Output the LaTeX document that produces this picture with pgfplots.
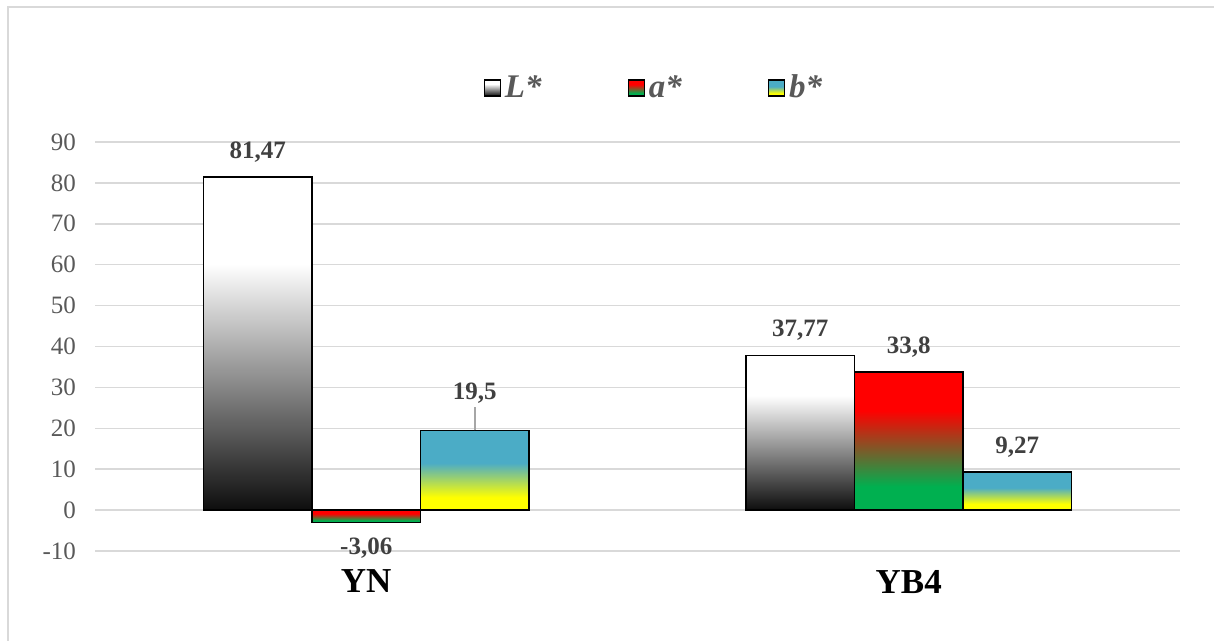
\documentclass[border=0pt]{standalone}
\usepackage{fontspec}
\setmainfont{Liberation Serif}
\usepackage{pgfplots}
\pgfplotsset{compat=1.18}
\definecolor{gridc}{HTML}{D9D9D9}
\definecolor{txt}{HTML}{595959}
\definecolor{lbl}{HTML}{404040}
\definecolor{agreen}{HTML}{00B050}
\definecolor{bblue}{HTML}{4BACC6}
\definecolor{lblack}{HTML}{0D0D0D}
\pgfdeclareverticalshading{Lsh}{100bp}{color(0bp)=(lblack); color(25bp)=(lblack); color(62bp)=(white); color(100bp)=(white)}
\pgfdeclareverticalshading{Ash}{100bp}{color(0bp)=(agreen); color(33.5bp)=(agreen); color(61bp)=(red); color(100bp)=(red)}
\pgfdeclareverticalshading{Bsh}{100bp}{color(0bp)=(yellow); color(33bp)=(yellow); color(54.5bp)=(bblue); color(100bp)=(bblue)}
\pgfplotsset{
  barbase/.style={ybar, bar width=0.2, bar shift=0, draw=black, line width=0.8pt,
    nodes near coords,
    every node near coord/.append style={font=\fontsize{12.5}{14}\selectfont\bfseries, text=lbl, inner ysep=7pt},
    /pgf/number format/fixed, /pgf/number format/precision=2,
    /pgf/number format/use comma, /pgf/number format/assume math mode=true},
}
\begin{document}
\begin{tikzpicture}
\path[use as bounding box] (0,0) rectangle (607pt,320.5pt);
\draw[gridc, line width=1pt] (4pt,0) -- (4pt,317pt) -- (607pt,317pt);
\begin{axis}[
  at={(47.5pt,45pt)}, anchor=south west,
  scale only axis, width=542.5pt, height=204.5pt,
  xmin=-0.5, xmax=1.5, ymin=-10, ymax=90,
  ytick={-10,0,...,90}, xtick={0,1}, xticklabels={YN,YB4},
  axis line style={draw=none}, major tick length=0pt,
  ymajorgrids, grid style={gridc, line width=0.75pt},
  yticklabel style={font=\fontsize{12.5}{14}\selectfont, text=txt, xshift=-6pt},
  xticklabel style={font=\fontsize{17.5}{20}\selectfont\bfseries, text=black, yshift=-6pt},
  /pgf/number format/assume math mode=true,
  legend style={at={(0.516,1.132)}, anchor=center, draw=none, fill=none,
    font=\fontsize{16.5}{18}\selectfont\bfseries\itshape, text=txt,
    /tikz/every even column/.append style={column sep=41pt}},
  legend columns=3,
  legend image code/.code={\path[#1, line width=0.6pt] (0pt,-4pt) rectangle (8pt,4pt);},
  clip=false,
]
\addplot[barbase, shading=Lsh] coordinates {(-0.2,81.47)};
\addlegendentry{L*}
\addplot[barbase, shading=Ash] coordinates {(0,-3.06)};
\addlegendentry{a*}
\addplot[barbase, shading=Bsh, every node near coord/.append style={yshift=6pt}] coordinates {(0.2,19.5)};
\addlegendentry{b*}
\addplot[barbase, shading=Lsh, forget plot] coordinates {(0.8,37.77)};
\addplot[barbase, shading=Ash, forget plot] coordinates {(1,33.8)};
\addplot[barbase, shading=Bsh, forget plot] coordinates {(1.2,9.27)};
\draw[gray!70, line width=0.8pt] (axis cs:0.2,19.5) -- ++(0pt,11.5pt);
\end{axis}
\end{tikzpicture}
\end{document}
